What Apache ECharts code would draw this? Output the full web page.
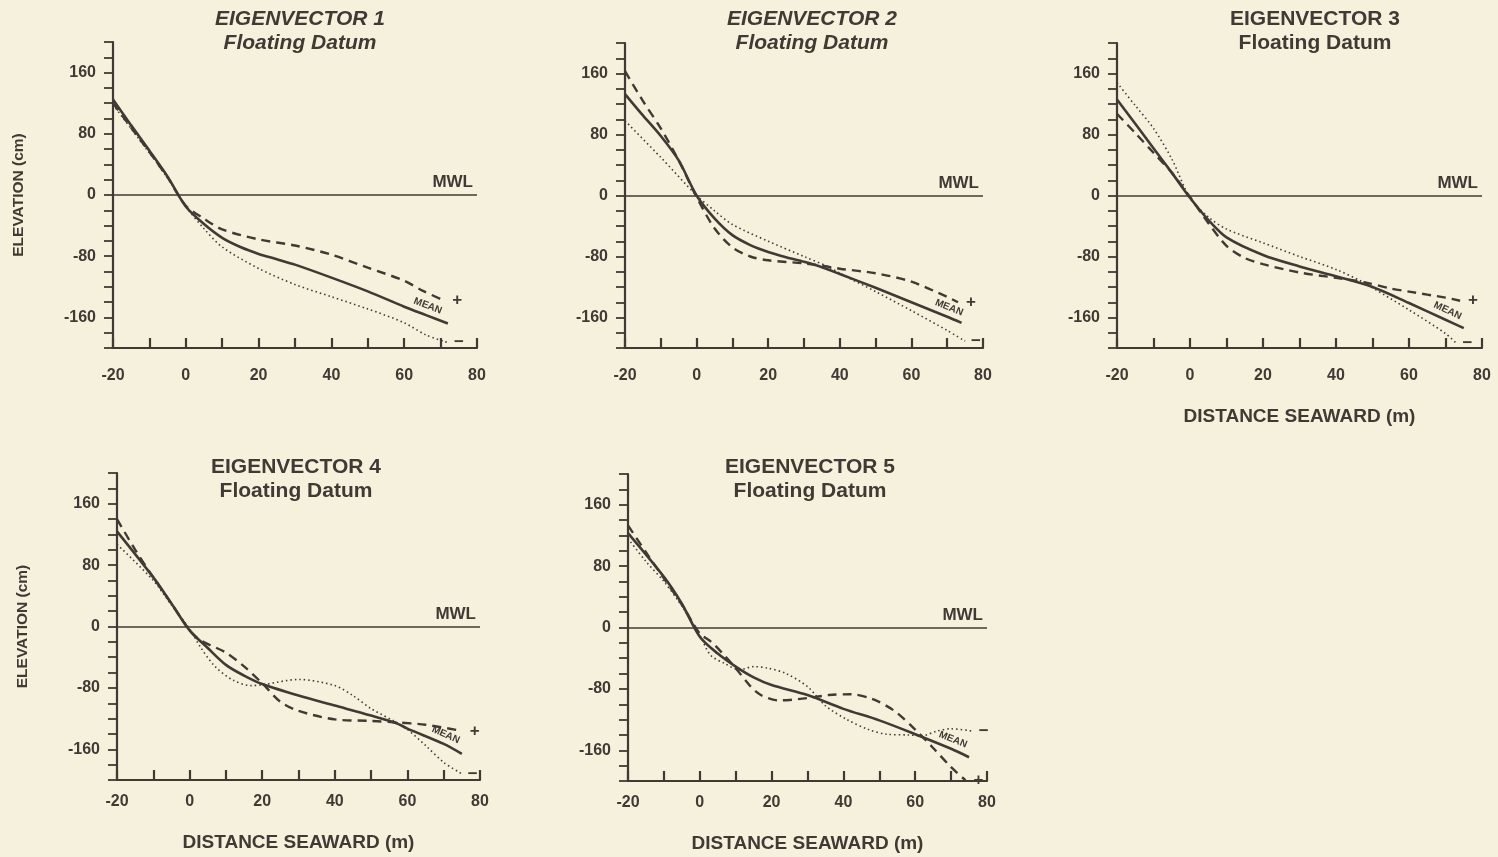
<!DOCTYPE html>
<html>
<head>
<meta charset="utf-8">
<script src="https://cdn.jsdelivr.net/npm/echarts@6/dist/echarts.min.js"></script>
<style>
html,body{margin:0;padding:0;background:#f6f1dd;}
#chart{width:1498px;height:857px;}
</style>
</head>
<body>
<div id="chart"></div>
<script>
// ---- data (distance seaward m, elevation cm) ----
const titles = ['EIGENVECTOR 1','EIGENVECTOR 2','EIGENVECTOR 3','EIGENVECTOR 4','EIGENVECTOR 5'];
const subtitle = 'Floating Datum';
const xTickLabels = [-20, 0, 20, 40, 60, 80];
const yTickLabels = [-160, -80, 0, 80, 160];

const e1Mean  = [[-20,125],[-15,91],[-10,58],[-5,24],[0,-15],[5,-38],[10,-56],[15,-68],[20,-77],[25,-84],[30,-91],[40,-108],[50,-126],[60,-146],[66,-157],[72,-168]];
const e1Plus  = [[-20,120],[-10,56],[-5,23],[0,-14],[5,-31],[10,-45],[20,-58],[30,-66],[40,-78],[50,-95],[60,-112],[65,-125],[71,-138]];
const e1Minus = [[-20,118],[-10,55],[-5,22],[0,-15],[5,-44],[10,-68],[20,-96],[30,-117],[40,-133],[50,-149],[60,-167],[66,-183],[72,-193]];

const e2Mean  = [[-20,133],[-15,105],[-10,78],[-5,46],[0,0],[5,-30],[10,-52],[15,-65],[20,-74],[25,-81],[30,-87],[35,-94],[40,-103],[50,-121],[60,-140],[70,-159],[74,-167]];
const e2Plus  = [[-20,163],[-15,124],[-10,88],[-5,46],[0,-2],[5,-43],[10,-68],[15,-80],[20,-85],[30,-89],[35,-92],[40,-96],[50,-102],[60,-113],[70,-133],[73,-140]];
const e2Minus = [[-20,98],[-10,50],[0,0],[5,-20],[10,-38],[20,-60],[30,-80],[37,-94],[40,-102],[50,-126],[60,-151],[70,-177],[75,-191]];

const e3Mean  = [[-20,126],[-10,62],[-5,30],[0,-3],[5,-32],[10,-55],[20,-78],[30,-93],[40,-106],[50,-120],[60,-141],[70,-163],[75,-174]];
const e3Plus  = [[-20,107],[-15,82],[-10,56],[-5,30],[0,-2],[5,-36],[10,-66],[15,-82],[20,-90],[30,-101],[40,-108],[48,-114],[55,-122],[60,-126],[70,-134],[74,-138]];
const e3Minus = [[-20,148],[-15,118],[-10,88],[-5,48],[0,-3],[5,-28],[10,-44],[20,-62],[30,-80],[40,-97],[48,-115],[50,-121],[60,-150],[70,-181],[73,-194]];

const e4Mean  = [[-20,124],[-10,64],[-5,30],[0,-5],[5,-28],[10,-50],[15,-64],[20,-75],[30,-90],[40,-103],[50,-116],[57,-126],[60,-133],[70,-153],[75,-166]];
const e4Plus  = [[-20,140],[-15,100],[-10,64],[-5,30],[0,-5],[3,-18],[10,-34],[15,-52],[20,-74],[25,-98],[30,-110],[40,-121],[50,-123],[57,-125],[65,-128],[75,-136]];
const e4Minus = [[-20,107],[-10,60],[-5,28],[0,-3],[3,-27],[7,-52],[12,-70],[17,-77],[20,-76],[30,-69],[40,-77],[45,-90],[50,-107],[57,-125],[60,-134],[65,-155],[70,-177],[75,-192]];

const e5Mean  = [[-20,123],[-10,66],[-5,31],[0,-12],[5,-34],[10,-51],[15,-65],[20,-75],[30,-88],[40,-106],[50,-121],[60,-139],[70,-158],[75,-169]];
const e5Plus  = [[-20,133],[-15,98],[-10,64],[-5,30],[0,-8],[3,-18],[6,-32],[10,-53],[14,-76],[17,-88],[22,-95],[30,-92],[36,-88],[42,-87],[48,-93],[54,-108],[60,-133],[65,-157],[70,-182],[74,-199]];
const e5Minus = [[-20,116],[-15,86],[-10,60],[-5,28],[0,-10],[3,-36],[7,-47],[11,-55],[15,-51],[19,-53],[24,-60],[30,-77],[35,-102],[41,-120],[47,-133],[52,-139],[58,-140],[62,-141],[66,-135],[70,-132],[76,-135]];

const means  = [e1Mean, e2Mean, e3Mean, e4Mean, e5Mean];
const pluses = [e1Plus, e2Plus, e3Plus, e4Plus, e5Plus];
const minuses= [e1Minus, e2Minus, e3Minus, e4Minus, e5Minus];
const meanLabelX = [66, 70, 70, 70, 70];

// ---- layout ----
const INK = '#3f3a34';
const FONT = '"Liberation Sans", Arial, Helvetica, sans-serif';
const grids = [
  {left:113, top:42, width:364, height:306},
  {left:625, top:43, width:358, height:305},
  {left:1117, top:43, width:365, height:305},
  {left:117, top:473, width:363, height:307},
  {left:628, top:474, width:359, height:307}
];
const titleCx = [295, 807, 1310, 291, 805];
const titleTop = [4, 4, 4, 452, 452];
const italic = [true, true, false, false, false];
const showYName = [true, false, false, true, false];
const showXName = [false, false, true, true, true];
const xNameGap = [59, 59, 59, 53, 53];
const xLabelMargin = [20, 20, 20, 14, 14];
const meanRot = [-21, -22, -25, -24, -22];

const option = {
  backgroundColor: '#f6f1dd',
  animation: false,
  title: titles.map((t, i) => ({
    text: t, subtext: subtitle,
    left: titleCx[i], top: titleTop[i], textAlign: 'center',
    itemGap: 3,
    textStyle: {color: INK, fontFamily: FONT, fontSize: 21, fontWeight: 'bold', fontStyle: italic[i] ? 'italic' : 'normal'},
    subtextStyle: {color: INK, fontFamily: FONT, fontSize: 21, fontWeight: 'bold', fontStyle: italic[i] ? 'italic' : 'normal'}
  })),
  grid: grids,
  xAxis: grids.map((g, i) => ({
    gridIndex: i, type: 'value', min: -20, max: 80, interval: 10,
    name: showXName[i] ? 'DISTANCE SEAWARD (m)' : '',
    nameLocation: 'middle', nameGap: xNameGap[i],
    nameTextStyle: {color: INK, fontFamily: FONT, fontSize: 19, fontWeight: 'bold'},
    axisLine: {onZero: false, lineStyle: {color: INK, width: 2.2}},
    axisTick: {inside: true, length: 10, lineStyle: {color: INK, width: 2.2}},
    axisLabel: {color: INK, fontFamily: FONT, fontSize: 16, fontWeight: 'bold', margin: xLabelMargin[i],
      formatter: v => xTickLabels.includes(v) ? String(v) : ''},
    splitLine: {show: false}
  })),
  yAxis: grids.map((g, i) => ({
    gridIndex: i, type: 'value', min: -200, max: 200, interval: 20,
    name: showYName[i] ? 'ELEVATION (cm)' : '',
    nameLocation: 'middle', nameGap: 86,
    nameTextStyle: {color: INK, fontFamily: FONT, fontSize: 15.5, fontWeight: 'bold'},
    axisLine: {onZero: false, lineStyle: {color: INK, width: 2.2}},
    axisTick: {length: 9, lineStyle: {color: INK, width: 1.8}},
    axisLabel: {color: INK, fontFamily: FONT, fontSize: 16, fontWeight: 'bold', margin: 17,
      formatter: v => yTickLabels.includes(v) ? String(v) : ''},
    splitLine: {show: false}
  })),
  series: []
};

for (let i = 0; i < 5; i++) {
  const lp = means[i].find(p => p[0] === meanLabelX[i]);
  option.series.push({
    type: 'line', xAxisIndex: i, yAxisIndex: i, smooth: 0.3, symbol: 'none',
    lineStyle: {color: INK, width: 2.6},
    data: means[i],
    markLine: {
      silent: true, symbol: 'none',
      lineStyle: {color: INK, width: 1.5, type: 'solid'},
      label: {formatter: 'MWL', position: 'insideEndTop', color: INK, fontFamily: FONT, fontSize: 17, fontWeight: 'bold', distance: [4, 4]},
      data: [{yAxis: 0}]
    },
    markPoint: {
      silent: true, symbol: 'circle', symbolSize: 1,
      itemStyle: {color: 'rgba(0,0,0,0)'},
      label: {show: true, formatter: 'MEAN', position: 'top', distance: 4, rotate: meanRot[i],
        color: INK, fontFamily: FONT, fontSize: 10, fontWeight: 'bold'},
      data: [{coord: lp}]
    }
  });
  option.series.push({
    type: 'line', xAxisIndex: i, yAxisIndex: i, smooth: 0.3, symbol: 'none',
    lineStyle: {color: INK, width: 2.4, type: [9, 6]},
    data: pluses[i],
    endLabel: {show: true, formatter: '+', color: INK, fontFamily: FONT, fontSize: 17, fontWeight: 'bold', distance: 8}
  });
  option.series.push({
    type: 'line', xAxisIndex: i, yAxisIndex: i, smooth: 0.3, symbol: 'none',
    lineStyle: {color: INK, width: 1.6, type: [1.5, 3]},
    data: minuses[i],
    endLabel: {show: true, formatter: '\u2212', color: INK, fontFamily: FONT, fontSize: 17, fontWeight: 'bold', distance: 6}
  });
}

const chart = echarts.init(document.getElementById('chart'), null, {renderer: 'canvas'});
chart.setOption(option);
</script>
</body>
</html>
